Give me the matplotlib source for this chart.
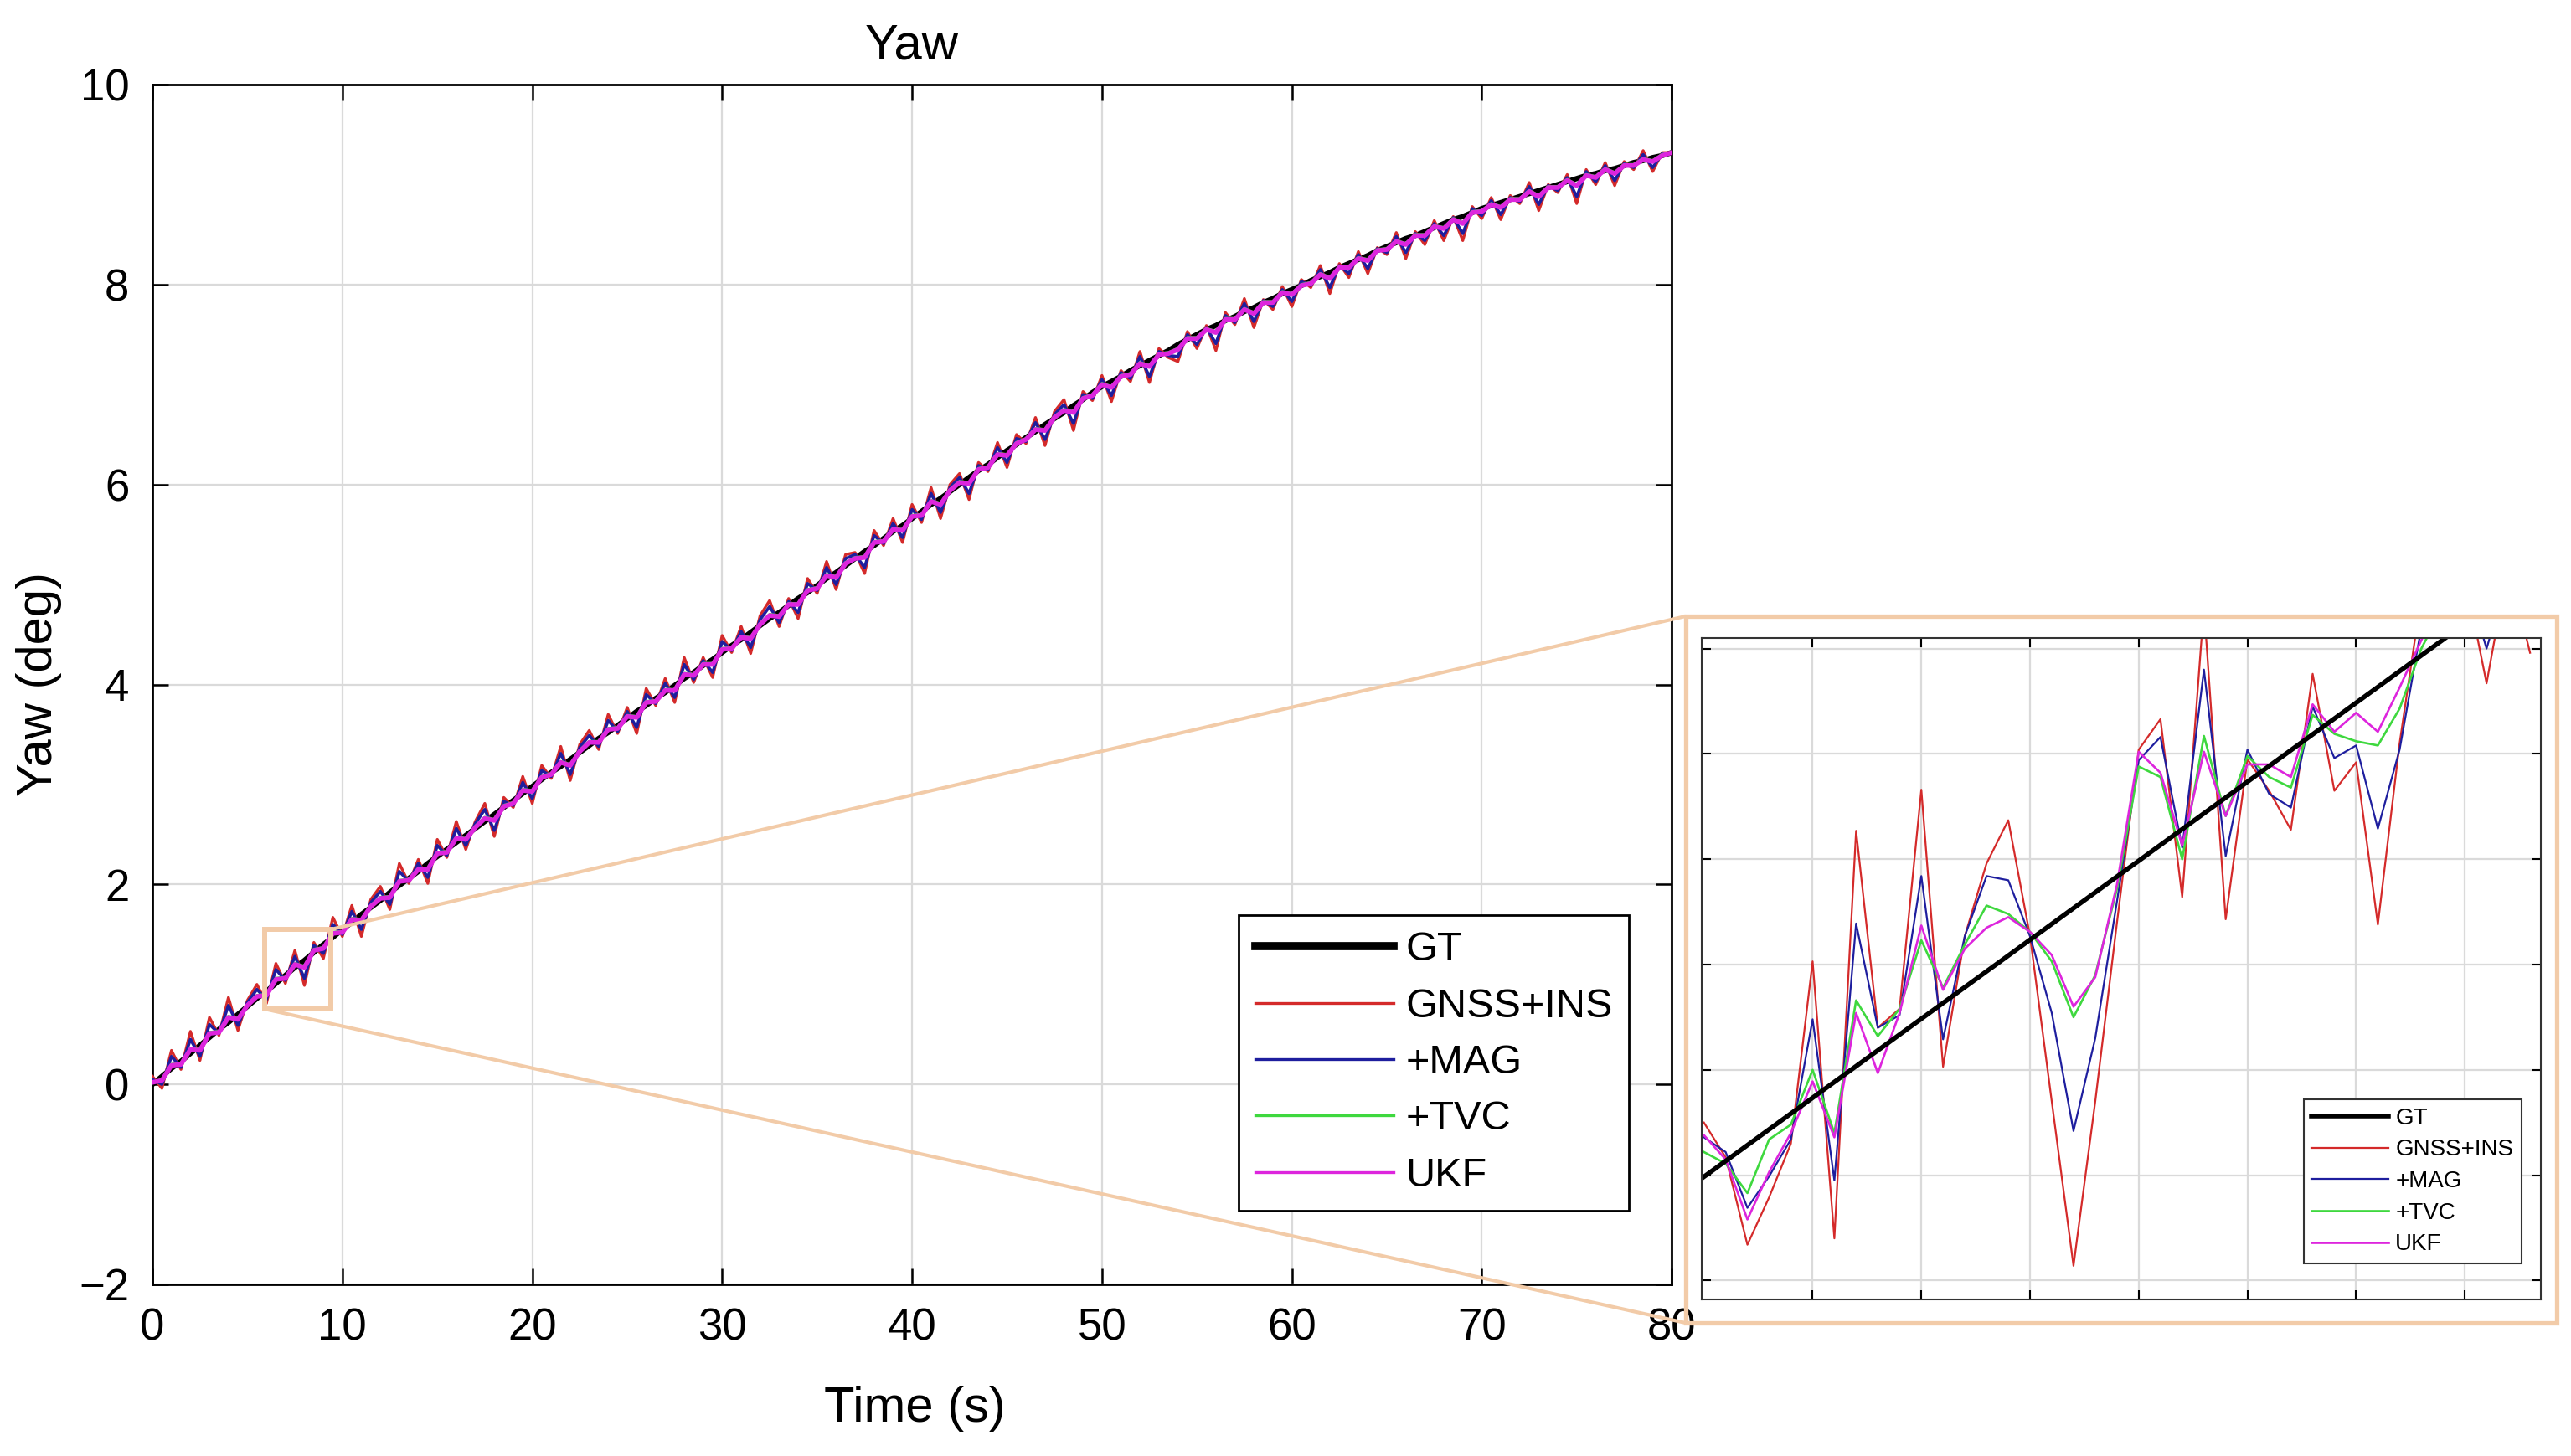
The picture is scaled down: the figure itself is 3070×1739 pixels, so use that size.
import matplotlib.pyplot as plt
import numpy as np
from matplotlib.patches import Rectangle, ConnectionPatch

plt.rcParams['font.family'] = ['Liberation Sans', 'DejaVu Sans']

# ---- main plot data: yaw (deg), sampled every 0.5 s from 0 to 80 s ----
t_main = np.arange(161) * 0.5

gt = [0.00, 0.08, 0.16, 0.23, 0.31, 0.39, 0.47, 0.55, 0.62, 0.70, 0.78,
      0.86, 0.93, 1.01, 1.09, 1.17, 1.24, 1.32, 1.40, 1.47, 1.55,
      1.62, 1.70, 1.77, 1.84, 1.92, 1.99, 2.06, 2.13, 2.21, 2.28,
      2.35, 2.42, 2.49, 2.56, 2.63, 2.70, 2.77, 2.84, 2.91, 2.98,
      3.05, 3.12, 3.18, 3.25, 3.32, 3.39, 3.46, 3.52, 3.59, 3.66,
      3.73, 3.79, 3.86, 3.92, 3.99, 4.06, 4.12, 4.19, 4.25, 4.32,
      4.39, 4.45, 4.52, 4.59, 4.66, 4.72, 4.79, 4.86, 4.92, 4.99,
      5.06, 5.12, 5.19, 5.26, 5.33, 5.39, 5.46, 5.53, 5.59, 5.66,
      5.73, 5.80, 5.86, 5.93, 6.00, 6.07, 6.14, 6.20, 6.27, 6.34,
      6.40, 6.47, 6.53, 6.60, 6.66, 6.72, 6.79, 6.85, 6.92, 6.98,
      7.03, 7.08, 7.14, 7.19, 7.24, 7.29, 7.34, 7.40, 7.45, 7.50,
      7.55, 7.59, 7.64, 7.68, 7.73, 7.77, 7.82, 7.86, 7.91, 7.95,
      7.99, 8.04, 8.08, 8.12, 8.17, 8.21, 8.25, 8.29, 8.34, 8.38,
      8.42, 8.46, 8.49, 8.53, 8.57, 8.61, 8.65, 8.68, 8.72, 8.76,
      8.79, 8.82, 8.85, 8.88, 8.91, 8.94, 8.97, 9.00, 9.03, 9.06,
      9.09, 9.11, 9.14, 9.16, 9.19, 9.22, 9.24, 9.27, 9.29, 9.32]

# deviation of each estimate from GT (deg)
dev_gnss = [0.08, -0.12, 0.18, -0.08, 0.22, -0.15, 0.20, -0.06, 0.25, -0.16,
            0.06, 0.14, -0.12, 0.20, -0.08, 0.17, -0.25, 0.10, -0.14, 0.20,
            -0.07, 0.17, -0.22, 0.08, 0.14, -0.17, 0.22, -0.05, 0.12, -0.20,
            0.17, -0.08, 0.21, -0.14, 0.07, 0.18, -0.22, 0.10, -0.07, 0.17,
            -0.17, 0.14, -0.06, 0.20, -0.21, 0.08, 0.15, -0.11, 0.18, -0.08,
            0.11, -0.22, 0.17, -0.07, 0.14, -0.17, 0.21, -0.10, 0.08, -0.18,
            0.17, -0.07, 0.13, -0.21, 0.10, 0.18, -0.14, 0.07, -0.20, 0.14,
            -0.08, 0.17, -0.17, 0.11, 0.06, -0.22, 0.15, -0.07, 0.13, -0.17,
            0.14, -0.11, 0.17, -0.20, 0.07, 0.11, -0.22, 0.08, -0.07, 0.15,
            -0.17, 0.10, -0.06, 0.14, -0.21, 0.07, 0.13, -0.25, 0.08, -0.08,
            0.11, -0.20, 0.06, -0.11, 0.14, -0.22, 0.07, -0.07, -0.17, 0.08,
            -0.14, 0.04, -0.25, 0.08, -0.08, 0.13, -0.20, 0.03, -0.11, 0.07,
            -0.17, 0.06, -0.07, 0.11, -0.21, 0.04, -0.14, 0.08, -0.18, 0.03,
            -0.08, 0.10, -0.20, 0.04, -0.13, 0.07, -0.17, 0.03, -0.24, 0.06,
            -0.10, 0.08, -0.17, 0.04, -0.07, 0.11, -0.20, 0.03, -0.08, 0.07,
            -0.25, 0.06, -0.11, 0.08, -0.17, 0.04, -0.07, 0.10, -0.14, 0.03,
            0.00]

dev_mag = [0.05, -0.08, 0.12, -0.06, 0.14, -0.11, 0.13, -0.04, 0.17, -0.11,
           0.04, 0.09, -0.08, 0.14, -0.05, 0.11, -0.18, 0.07, -0.09, 0.13,
           -0.05, 0.11, -0.15, 0.05, 0.09, -0.12, 0.14, -0.03, 0.08, -0.14,
           0.11, -0.06, 0.14, -0.10, 0.05, 0.12, -0.16, 0.06, -0.05, 0.11,
           -0.12, 0.09, -0.04, 0.13, -0.15, 0.05, 0.10, -0.08, 0.12, -0.06,
           0.07, -0.16, 0.11, -0.05, 0.09, -0.12, 0.14, -0.07, 0.05, -0.13,
           0.11, -0.05, 0.08, -0.15, 0.06, 0.12, -0.10, 0.04, -0.14, 0.09,
           -0.05, 0.11, -0.12, 0.07, 0.04, -0.16, 0.10, -0.05, 0.08, -0.12,
           0.09, -0.08, 0.11, -0.14, 0.04, 0.07, -0.16, 0.05, -0.05, 0.10,
           -0.12, 0.06, -0.04, 0.09, -0.15, 0.04, 0.08, -0.18, 0.05, -0.06,
           0.07, -0.14, 0.04, -0.08, 0.09, -0.16, 0.04, -0.05, -0.12, 0.05,
           -0.10, 0.02, -0.18, 0.05, -0.06, 0.08, -0.14, 0.02, -0.08, 0.04,
           -0.12, 0.04, -0.05, 0.07, -0.15, 0.02, -0.10, 0.05, -0.13, 0.02,
           -0.06, 0.06, -0.14, 0.02, -0.09, 0.04, -0.12, 0.02, -0.17, 0.04,
           -0.07, 0.05, -0.12, 0.02, -0.05, 0.07, -0.14, 0.02, -0.06, 0.04,
           -0.18, 0.04, -0.08, 0.05, -0.12, 0.02, -0.05, 0.06, -0.10, 0.02,
           0.00]

dev_tvc = [0.02, -0.03, 0.04, -0.02, 0.05, -0.04, 0.05, -0.02, 0.06, -0.04,
           0.01, 0.03, -0.03, 0.05, -0.02, 0.04, -0.06, 0.03, -0.03, 0.05,
           -0.02, 0.04, -0.05, 0.02, 0.03, -0.04, 0.05, -0.01, 0.03, -0.05,
           0.04, -0.02, 0.05, -0.03, 0.02, 0.04, -0.05, 0.02, -0.02, 0.04,
           -0.04, 0.03, -0.01, 0.05, -0.05, 0.02, 0.04, -0.03, 0.04, -0.02,
           0.03, -0.05, 0.04, -0.02, 0.03, -0.04, 0.05, -0.02, 0.02, -0.04,
           0.04, -0.02, 0.03, -0.05, 0.02, 0.04, -0.03, 0.02, -0.05, 0.03,
           -0.02, 0.04, -0.04, 0.03, 0.01, -0.05, 0.04, -0.02, 0.03, -0.04,
           0.03, -0.03, 0.04, -0.05, 0.02, 0.03, -0.05, 0.02, -0.02, 0.04,
           -0.04, 0.02, -0.01, 0.03, -0.05, 0.02, 0.03, -0.06, 0.02, -0.02,
           0.03, -0.05, 0.01, -0.03, 0.03, -0.05, 0.02, -0.02, -0.04, 0.02,
           -0.03, 0.01, -0.06, 0.02, -0.02, 0.03, -0.05, 0.01, -0.03, 0.02,
           -0.04, 0.01, -0.02, 0.03, -0.05, 0.01, -0.03, 0.02, -0.04, 0.01,
           -0.02, 0.02, -0.05, 0.01, -0.03, 0.02, -0.04, 0.01, -0.06, 0.01,
           -0.02, 0.02, -0.04, 0.01, -0.02, 0.03, -0.05, 0.01, -0.02, 0.02,
           -0.06, 0.01, -0.03, 0.02, -0.04, 0.01, -0.02, 0.02, -0.03, 0.01,
           0.00]

dev_ukf = [0.02, -0.04, 0.03, -0.03, 0.04, -0.05, 0.04, -0.03, 0.05, -0.05,
           0.01, 0.02, -0.04, 0.04, -0.03, 0.03, -0.07, 0.02, -0.04, 0.04,
           -0.03, 0.03, -0.06, 0.01, 0.02, -0.05, 0.04, -0.02, 0.02, -0.06,
           0.03, -0.03, 0.04, -0.04, 0.01, 0.03, -0.06, 0.01, -0.03, 0.03,
           -0.05, 0.02, -0.02, 0.04, -0.06, 0.01, 0.03, -0.04, 0.03, -0.03,
           0.02, -0.06, 0.03, -0.03, 0.02, -0.05, 0.04, -0.03, 0.01, -0.05,
           0.03, -0.03, 0.02, -0.06, 0.01, 0.03, -0.04, 0.01, -0.06, 0.02,
           -0.03, 0.03, -0.05, 0.02, 0.00, -0.06, 0.03, -0.03, 0.02, -0.05,
           0.02, -0.04, 0.03, -0.06, 0.01, 0.02, -0.06, 0.01, -0.03, 0.03,
           -0.05, 0.01, -0.02, 0.02, -0.06, 0.01, 0.02, -0.07, 0.01, -0.03,
           0.02, -0.06, 0.00, -0.04, 0.02, -0.06, 0.01, -0.03, -0.05, 0.01,
           -0.04, 0.00, -0.07, 0.01, -0.03, 0.02, -0.06, 0.00, -0.04, 0.01,
           -0.05, 0.00, -0.03, 0.02, -0.06, 0.00, -0.04, 0.01, -0.05, 0.00,
           -0.03, 0.01, -0.06, 0.00, -0.04, 0.01, -0.05, 0.00, -0.07, 0.00,
           -0.03, 0.01, -0.05, 0.00, -0.03, 0.02, -0.06, 0.00, -0.03, 0.01,
           -0.07, 0.00, -0.04, 0.01, -0.05, 0.00, -0.03, 0.01, -0.04, 0.00,
           0.00]

# ---- zoomed inset data: 5.5 s to 9.3 s every 0.1 s ----
t_zoom = np.round(5.5 + 0.1 * np.arange(39), 1)
gt_zoom_t = [5.49, 9.35]
gt_zoom = [0.797, 1.376]

gnss_zoom = [0.850, 0.817, 0.734, 0.779, 0.830, 1.003, 0.740, 1.127, 0.940, 0.958,
             1.166, 0.903, 1.027, 1.096, 1.137, 1.027, 0.870, 0.714, 0.870, 1.040,
             1.204, 1.233, 1.064, 1.340, 1.043, 1.195, 1.165, 1.128, 1.276, 1.165,
             1.192, 1.038, 1.210, 1.350, 1.380, 1.370, 1.267, 1.380, 1.296]
mag_zoom = [0.836, 0.822, 0.769, 0.799, 0.834, 0.948, 0.795, 1.039, 0.940, 0.952,
            1.084, 0.929, 1.027, 1.084, 1.080, 1.027, 0.954, 0.842, 0.930, 1.060,
            1.194, 1.216, 1.111, 1.280, 1.103, 1.204, 1.162, 1.149, 1.245, 1.196,
            1.208, 1.129, 1.204, 1.320, 1.360, 1.370, 1.300, 1.370, 1.360]
tvc_zoom = [0.822, 0.811, 0.783, 0.834, 0.848, 0.900, 0.840, 0.966, 0.932, 0.958,
            1.023, 0.978, 1.019, 1.056, 1.048, 1.031, 1.003, 0.950, 0.990, 1.072,
            1.188, 1.178, 1.100, 1.217, 1.141, 1.198, 1.178, 1.168, 1.237, 1.219,
            1.212, 1.208, 1.243, 1.300, 1.340, 1.370, 1.350, 1.380, 1.380]
ukf_zoom = [0.838, 0.815, 0.758, 0.803, 0.840, 0.889, 0.836, 0.954, 0.897, 0.954,
            1.037, 0.976, 1.015, 1.035, 1.045, 1.031, 1.009, 0.960, 0.988, 1.076,
            1.202, 1.182, 1.113, 1.202, 1.141, 1.190, 1.190, 1.178, 1.247, 1.221,
            1.239, 1.221, 1.263, 1.308, 1.350, 1.370, 1.330, 1.380, 1.370]

labels = ['GT', 'GNSS+INS', '+MAG', '+TVC', 'UKF']
colors = ['black', '#d42a2a', '#1e1e9e', '#3ed83e', '#dd25dd']
peach = '#f2cba8'

gt = np.array(gt)

fig = plt.figure(figsize=(30.70, 17.39), dpi=100)
ax = fig.add_axes([0.0593, 0.1179, 0.5909, 0.8240])

ax.plot(t_main, gt, color=colors[0], lw=4.5, label=labels[0], zorder=2)
ax.plot(t_main, gt + np.array(dev_gnss), color=colors[1], lw=2.4, label=labels[1], zorder=3)
ax.plot(t_main, gt + np.array(dev_mag), color=colors[2], lw=2.6, label=labels[2], zorder=3)
ax.plot(t_main, gt + np.array(dev_tvc), color=colors[3], lw=2.6, label=labels[3], zorder=3)
ax.plot(t_main, gt + np.array(dev_ukf), color=colors[4], lw=4.0, label=labels[4], zorder=3)

ax.set_xlim(0, 80)
ax.set_ylim(-2, 10)
ax.set_xticks(range(0, 81, 10))
ax.set_yticks(range(-2, 11, 2))
ax.grid(True, color='#dadada', lw=1.6)
ax.set_axisbelow(True)
ax.tick_params(direction='in', top=True, right=True, length=14, width=1.8,
               labelsize=38, pad=20)
for s in ax.spines.values():
    s.set_linewidth(2.0)

ax.set_title('Yaw', fontsize=43, pad=22)
fig.text(1092 / 3070, 1 - 1698 / 1739, 'Time (s)', fontsize=43, ha='center', va='baseline')
fig.text(47 / 3070, 0.5302, 'Yaw (deg)', fontsize=43, ha='center', va='center', rotation=90)

leg = ax.legend(loc='upper left', bbox_to_anchor=(0.715, 0.3078), borderaxespad=0,
                fontsize=35, handlelength=3.4, handletextpad=0.3, labelspacing=0.46,
                borderpad=0.4, fancybox=False, framealpha=1)
leg.get_frame().set_edgecolor('black')
leg.get_frame().set_linewidth(2.0)
leg_lines = leg.get_lines()
leg_lines[0].set_linewidth(7.0)
for line in leg_lines[1:]:
    line.set_linewidth(2.4)

# zoom box on main plot
ax.add_patch(Rectangle((5.91, 0.754), 9.39 - 5.91, 1.55 - 0.754, fill=False,
                       edgecolor=peach, lw=4.3, zorder=6))

# ---- inset ----
ins = fig.add_axes([0.6619, 0.1075, 0.3264, 0.4543])
ins.plot(t_zoom, gnss_zoom, color=colors[1], lw=1.6, label=labels[1])
ins.plot(t_zoom, mag_zoom, color=colors[2], lw=1.6, label=labels[2])
ins.plot(t_zoom, tvc_zoom, color=colors[3], lw=1.9, label=labels[3])
ins.plot(t_zoom, ukf_zoom, color=colors[4], lw=1.9, label=labels[4])
ins.plot(gt_zoom_t, gt_zoom, color=colors[0], lw=4.0, label=labels[0])
ins.set_xlim(5.49, 9.35)
ins.set_ylim(0.682, 1.310)
ins.set_xticks([6.0, 6.5, 7.0, 7.5, 8.0, 8.5, 9.0])
ins.set_yticks([0.7, 0.8, 0.9, 1.0, 1.1, 1.2, 1.3])
ins.tick_params(direction='in', top=True, right=True, length=8, width=1.5,
                labelbottom=False, labelleft=False)
ins.grid(True, color='#dadada', lw=1.6)
ins.set_axisbelow(True)
for s in ins.spines.values():
    s.set_linewidth(1.5)
    s.set_edgecolor('#333333')

h, l = ins.get_legend_handles_labels()
order = [4, 0, 1, 2, 3]
leg2 = ins.legend([h[i] for i in order], [l[i] for i in order], loc='upper left',
                  bbox_to_anchor=(0.717, 0.3025), borderaxespad=0, fontsize=20,
                  handlelength=3.3, handletextpad=0.3, labelspacing=0.42,
                  borderpad=0.35, fancybox=False, framealpha=1)
leg2.get_frame().set_edgecolor('#333333')
leg2.get_frame().set_linewidth(1.5)

# peach frame around the inset
fig.patches.append(Rectangle((0.6557, 0.0914), 0.9945 - 0.6557, 0.5768 - 0.0914,
                             transform=fig.transFigure, fill=False,
                             edgecolor=peach, lw=3.8, zorder=5))

# connector lines from zoom box to frame
for xy_data, xy_fig in [((9.39, 1.55), (0.6557, 0.5768)), ((5.91, 0.754), (0.6557, 0.0914))]:
    con = ConnectionPatch(xyA=xy_data, coordsA=ax.transData, xyB=xy_fig,
                          coordsB=fig.transFigure, color=peach, lw=3.0, zorder=4)
    fig.add_artist(con)

fig.savefig('out.png', dpi=100)
